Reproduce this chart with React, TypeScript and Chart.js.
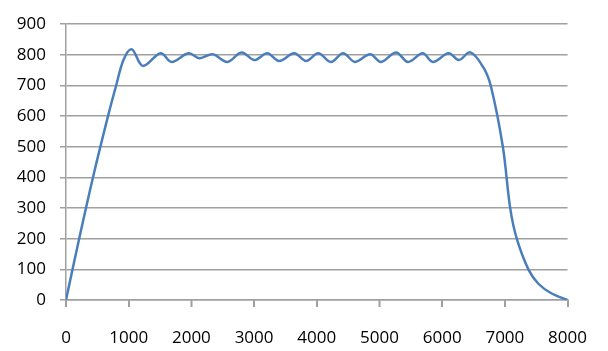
import React, { useEffect, useRef } from "react";
import { Chart, registerables } from "chart.js";

Chart.register(...registerables);

const xValues = [
  0, 210, 430, 670, 800, 920, 1050, 1225, 1510, 1685, 1955, 2130,
  2340, 2575, 2800, 3005, 3210, 3400, 3640, 3830, 4025, 4225, 4420, 4610, 4850, 5025,
  5265, 5455, 5690, 5850, 6105, 6265, 6450, 6660, 6780, 6968, 7085, 7190,
  7375, 7535, 7740, 8000,
];
const yValues = [
  0, 200, 400, 600, 700, 785, 818, 764, 805, 777, 805, 789,
  802, 777, 808, 783, 805, 780, 805, 780, 805, 777, 805, 777, 802, 777,
  808, 777, 805, 777, 805, 783, 808, 758, 695, 500, 300, 200,
  100, 53, 22, 0,
];
const xTicks = [0, 1000, 2000, 3000, 4000, 5000, 6000, 7000, 8000];
const yTicks = [0, 100, 200, 300, 400, 500, 600, 700, 800, 900];

const GRID = "#a0a0a0";

const xTickMarks = {
  id: "xTickMarks",
  afterDraw(chart: any) {
    const s = chart.scales.x;
    const area = chart.chartArea;
    const ctx = chart.ctx;
    ctx.save();
    ctx.strokeStyle = GRID;
    ctx.lineWidth = 1.5;
    ctx.beginPath();
    for (const v of xTicks) {
      const px = Math.round(s.getPixelForValue(v)) + 0.25;
      ctx.moveTo(px, area.bottom);
      ctx.lineTo(px, area.bottom + 7);
    }
    ctx.stroke();
    ctx.restore();
  },
};

export default function App() {
  const ref = useRef<HTMLCanvasElement>(null);
  useEffect(() => {
    if (!ref.current) return;
    const font = { family: "'Open Sans', 'Liberation Sans', sans-serif", size: 17 };
    const fmt = (v: any) => String(v);
    const chart = new Chart(ref.current, {
      type: "line",
      data: {
        datasets: [
          {
            data: xValues.map((x, i) => ({ x, y: yValues[i] })),
            borderColor: "#4a7ebb",
            borderWidth: 2.5,
            pointRadius: 0,
            tension: 0.35,
            fill: false,
          },
        ],
      },
      plugins: [xTickMarks],
      options: {
        animation: false,
        responsive: false,
        maintainAspectRatio: false,
        devicePixelRatio: 1,
        layout: { padding: { top: 14, right: 39, left: 0, bottom: 0 } },
        plugins: { legend: { display: false }, tooltip: { enabled: false } },
        scales: {
          x: {
            type: "linear",
            min: xTicks[0],
            max: xTicks[xTicks.length - 1],
            afterBuildTicks: (s: any) => {
              s.ticks = xTicks.map((v) => ({ value: v }));
            },
            afterFit: (s: any) => {
              s.height = 51;
            },
            grid: {
              display: true,
              drawOnChartArea: false,
              drawTicks: true,
              tickLength: 7,
              color: GRID,
              tickColor: GRID,
              tickWidth: 1.5,
              lineWidth: 1.5,
            },
            border: { color: GRID, width: 1.5 },
            ticks: { color: "#000", font, padding: 21, maxRotation: 0, autoSkip: false, callback: fmt },
          },
          y: {
            type: "linear",
            min: yTicks[0],
            max: yTicks[yTicks.length - 1],
            afterBuildTicks: (s: any) => {
              s.ticks = yTicks.map((v) => ({ value: v }));
            },
            afterFit: (s: any) => {
              s.width = 66;
            },
            grid: { drawTicks: true, tickLength: 6, color: GRID, tickColor: GRID, lineWidth: 1.5 },
            border: { color: GRID, width: 1.5 },
            ticks: { color: "#000", font, padding: 14, autoSkip: false, callback: fmt },
          },
        },
      },
    });
    return () => chart.destroy();
  }, []);
  return (
    <div style={{ position: "absolute", left: 0, top: 0, width: 608, height: 351, background: "#fff" }}>
      <canvas ref={ref} width={608} height={351} />
    </div>
  );
}
